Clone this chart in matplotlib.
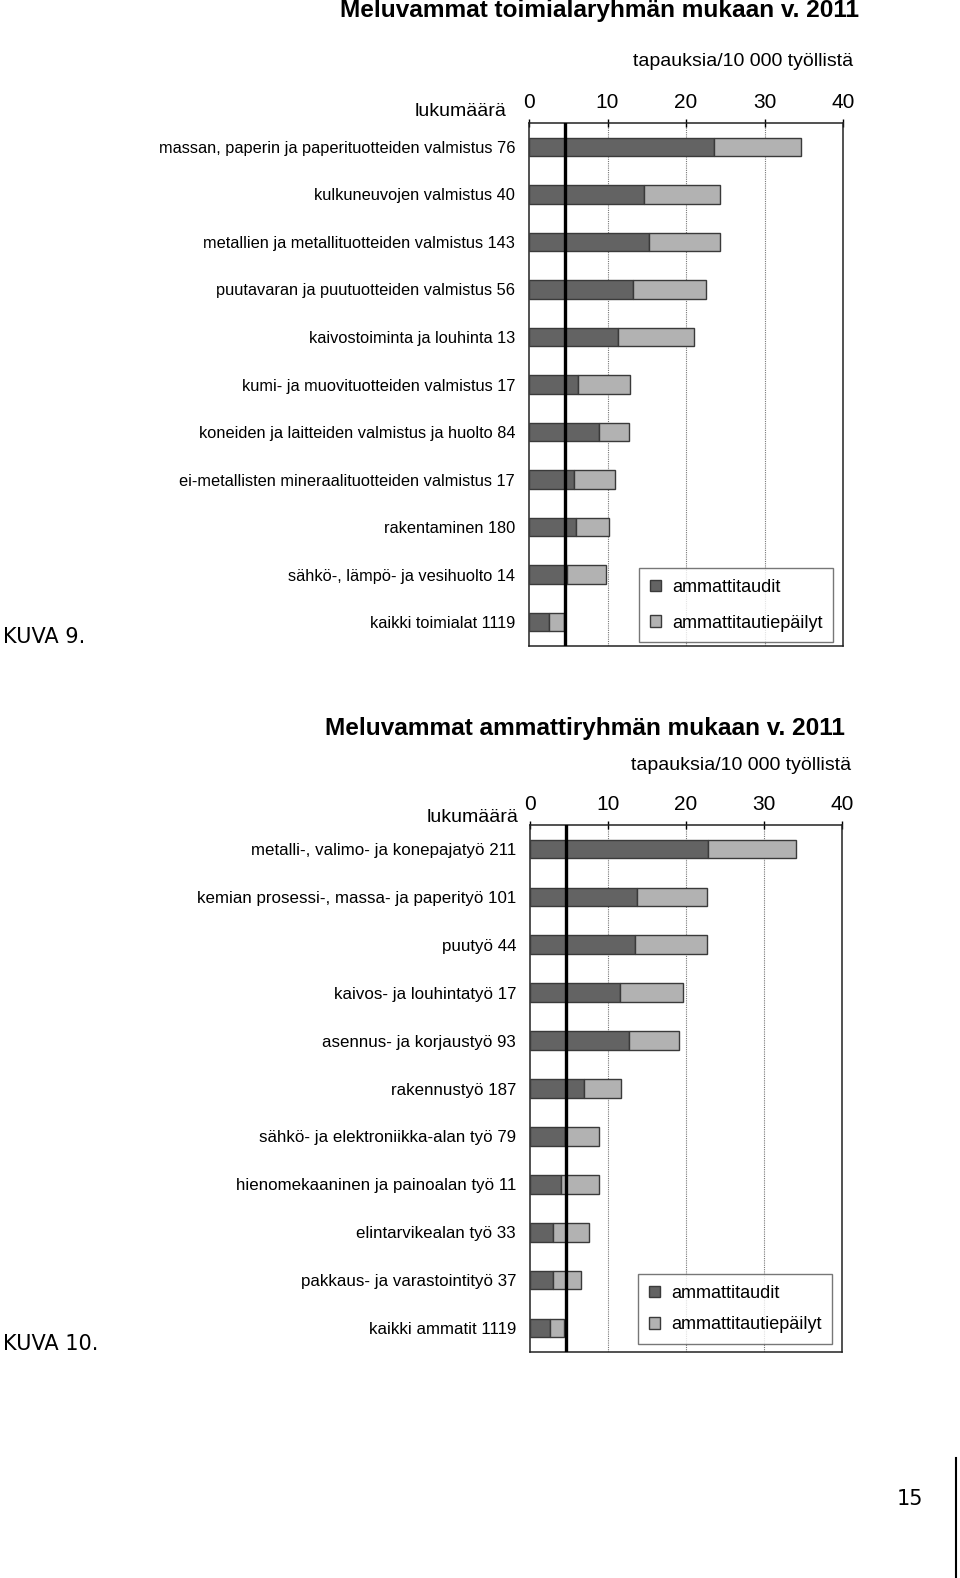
import matplotlib
matplotlib.use("Agg")
import matplotlib.pyplot as plt
from matplotlib.patches import Patch
import numpy as np

plt.rcParams['font.family'] = ['Liberation Sans', 'DejaVu Sans']

# ---------------- data ----------------
top_names = ["massan, paperin ja paperituotteiden valmistus", "kulkuneuvojen valmistus",
             "metallien ja metallituotteiden valmistus", "puutavaran ja puutuotteiden valmistus",
             "kaivostoiminta ja louhinta", "kumi- ja muovituotteiden valmistus",
             "koneiden ja laitteiden valmistus ja huolto", "ei-metallisten mineraalituotteiden valmistus",
             "rakentaminen", "sähkö-, lämpö- ja vesihuolto", "kaikki toimialat"]
top_counts = [76, 40, 143, 56, 13, 17, 84, 17, 180, 14, 1119]
top_diseases = [23.6, 14.6, 15.3, 13.3, 11.3, 6.2, 8.9, 5.7, 6.0, 4.9, 2.5]
top_suspected = [11.0, 9.7, 9.0, 9.3, 9.7, 6.7, 3.9, 5.3, 4.2, 4.9, 2.0]

bot_names = ["metalli-, valimo- ja konepajatyö", "kemian prosessi-, massa- ja paperityö",
             "puutyö", "kaivos- ja louhintatyö", "asennus- ja korjaustyö", "rakennustyö",
             "sähkö- ja elektroniikka-alan työ", "hienomekaaninen ja painoalan työ",
             "elintarvikealan työ", "pakkaus- ja varastointityö", "kaikki ammatit"]
bot_counts = [211, 101, 44, 17, 93, 187, 79, 11, 33, 37, 1119]
bot_diseases = [22.8, 13.7, 13.4, 11.5, 12.7, 6.9, 4.5, 4.0, 2.9, 2.9, 2.5]
bot_suspected = [11.3, 9.0, 9.3, 8.1, 6.4, 4.8, 4.4, 4.9, 4.6, 3.7, 1.9]

avg_line = 4.6
xticks = [0, 10, 20, 30, 40]
series_names = ["ammattitaudit", "ammattitautiepäilyt"]
titles = ["Meluvammat toimialaryhmän mukaan v. 2011", "Meluvammat ammattiryhmän mukaan v. 2011"]

DARK = "#636363"
LIGHT = "#b2b2b2"
EDGE = "#3a3a3a"

W, H = 960, 1578
fig = plt.figure(figsize=(W / 100, H / 100), dpi=100)


def px_axes(l, t, r, b):
    return [l / W, 1 - b / H, (r - l) / W, (b - t) / H]


def draw(ax, names, counts, dis, sus, label_fs, leg_y, leg_spacing):
    n = len(names)
    y = np.arange(n)
    ax.barh(y, dis, height=0.39, color=DARK, edgecolor=EDGE, linewidth=1.0, zorder=3)
    ax.barh(y, sus, left=dis, height=0.39, color=LIGHT, edgecolor=EDGE, linewidth=1.0, zorder=3)
    ax.axvline(avg_line, color="black", linewidth=2.4, zorder=4)
    for xv in xticks[1:-1]:
        ax.axvline(xv, color="#777777", linewidth=0.8, linestyle=(0, (1, 1)), zorder=1)
    ax.set_xlim(0, 40)
    ax.set_ylim(n - 0.5, -0.5)
    ax.set_yticks(y)
    ax.set_yticklabels([f"{a} {c}" for a, c in zip(names, counts)], fontsize=label_fs)
    ax.tick_params(axis="y", length=0, pad=10)
    ax.set_xticks(xticks)
    ax.set_xticklabels([str(v) for v in xticks], fontsize=15)
    ax.xaxis.tick_top()
    ax.tick_params(axis="x", direction="inout", length=6, width=1, pad=5,
                   top=True, bottom=False, labeltop=True, labelbottom=False)
    for s in ax.spines.values():
        s.set_linewidth(1.1)
        s.set_color("#222222")
    handles = [Patch(facecolor=DARK, edgecolor=EDGE, label=series_names[0]),
               Patch(facecolor=LIGHT, edgecolor=EDGE, label=series_names[1])]
    leg = ax.legend(handles=handles, loc="lower right", bbox_to_anchor=(0.98, leg_y),
                    fontsize=13, frameon=True, fancybox=False, edgecolor="#555555",
                    handlelength=0.6, handleheight=0.6, handletextpad=0.6,
                    labelspacing=leg_spacing, borderpad=0.6, borderaxespad=0.2)
    leg.get_frame().set_linewidth(1.0)


ax1 = fig.add_axes(px_axes(529, 123, 843, 646))
draw(ax1, top_names, top_counts, top_diseases, top_suspected, 11.8, 0.0, 1.05)
ax2 = fig.add_axes(px_axes(530, 825, 842, 1352))
draw(ax2, bot_names, bot_counts, bot_diseases, bot_suspected, 12.2, 0.008, 0.8)

# texts
fig.text(600 / W, 1 - 11 / H, titles[0], ha="center", va="center", fontsize=17.6, fontweight="bold")
fig.text(585 / W, 1 - 728 / H, titles[1], ha="center", va="center", fontsize=17.6, fontweight="bold")
fig.text(853 / W, 1 - 61 / H, "tapauksia/10 000 työllistä", ha="right", va="center", fontsize=14)
fig.text(851 / W, 1 - 765 / H, "tapauksia/10 000 työllistä", ha="right", va="center", fontsize=14)
fig.text(506 / W, 1 - 112 / H, "lukumäärä", ha="right", va="center", fontsize=14)
fig.text(519 / W, 1 - 818 / H, "lukumäärä", ha="right", va="center", fontsize=14)
fig.text(3 / W, 1 - 637 / H, "KUVA 9.", ha="left", va="center", fontsize=15, family="DejaVu Sans")
fig.text(3 / W, 1 - 1344 / H, "KUVA 10.", ha="left", va="center", fontsize=15, family="DejaVu Sans")
fig.text(910 / W, 1 - 1499 / H, "15", ha="center", va="center", fontsize=15, family="DejaVu Sans")
fig.add_artist(plt.Line2D([956 / W, 956 / W], [0, 1 - 1458 / H], color="black", linewidth=1.5))

fig.savefig("out.png", dpi=100)
